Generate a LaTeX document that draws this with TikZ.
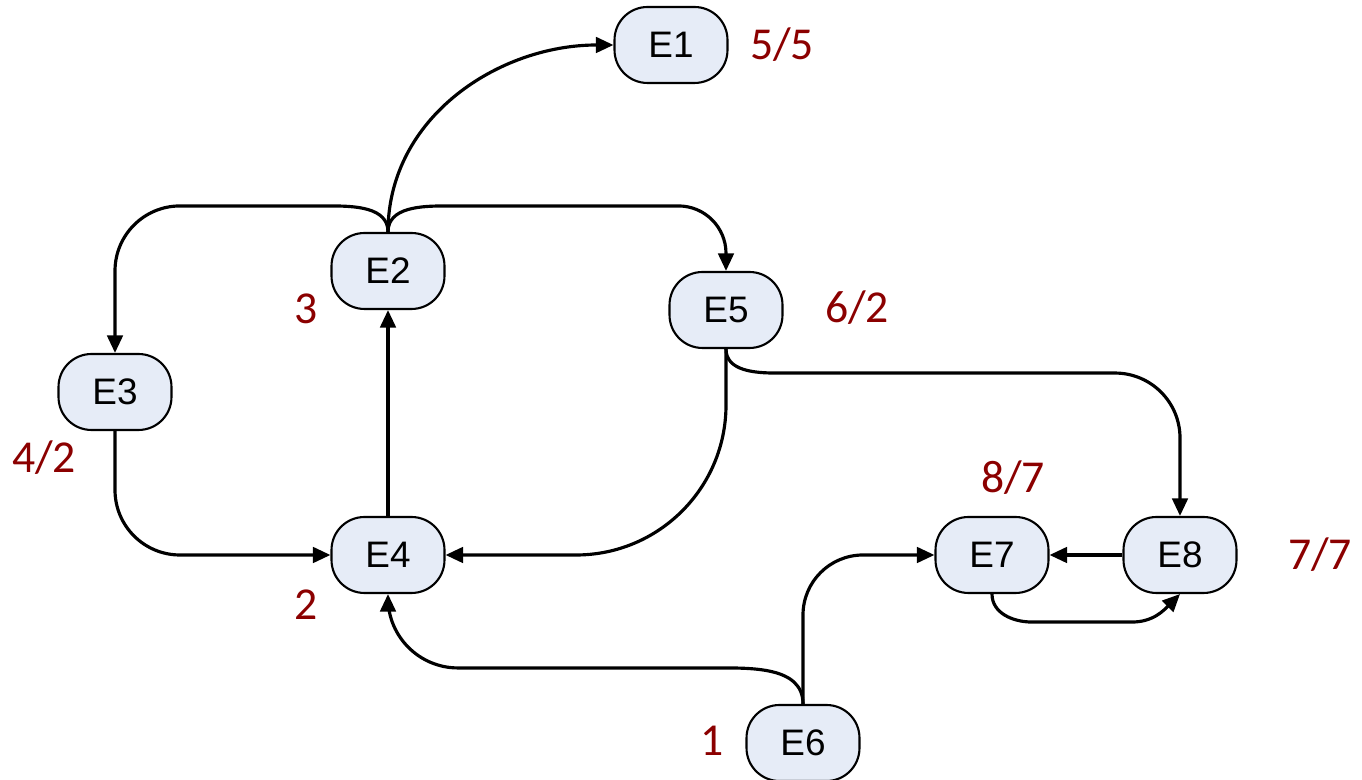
\documentclass[tikz,border=0pt]{standalone}
\usepackage{fontspec}
\setmainfont{Liberation Sans}
\newfontfamily\countfont{Carlito}
\usepackage{tikz}
\usetikzlibrary{
  arrows.meta,
  chains,
  scopes
}
\definecolor{statefill}{RGB}{230,236,247}
\definecolor{countred}{RGB}{139,0,0}

\begin{document}
\begin{tikzpicture}[
      x=0.02cm,y=0.02cm,
      state/.style={
         rectangle,
         rounded corners=0.66cm,
         minimum width=2.26cm,
         minimum height=1.52cm,
         inner sep=0pt,
         line width=1.2pt,
         draw=black,
         fill=statefill,
         font=\fontsize{21}{24}\selectfont
      },
      count/.style={
         text=countred,
         inner sep=0pt,
         font=\countfont\fontsize{26}{30}\selectfont
      },
      line width=1.8pt,
      tip/.style={-{Triangle[length=0.35cm,width=0.31cm]}},
      every join/.style={rounded corners=1.3cm},
      vh path/.style={to path={|- (\tikztotarget)}},
    ]
    \useasboundingbox (0,0) rectangle (1362,780);
    % states
    \node (e1) [state] at (671,735) {E1};
    \node (e2) [state] at (388,509) {E2};
    \node (e3) [state] at (115,388) {E3};
    \node (e4) [state] at (388,225) {E4};
    \node (e5) [state] at (726,470) {E5};
    \node (e6) [state] at (803,37) {E6};
    \node (e7) [state] at (992,225) {E7};
    \node (e8) [state] at (1180,225) {E8};
    % counts
    \node (c1) [count] at (782,735) {5/5};
    \node (c2) [count] at (306,471) {3};
    \node (c3) [count] at (44,322) {4/2};
    \node (c4) [count] at (306,175) {2};
    \node (c5) [count] at (857,472) {6/2};
    \node (c6) [count] at (712,39) {1};
    \node (c7) [count] at (1013,302) {8/7};
    \node (c8) [count] at (1320,225) {7/7};
  { [start chain]
       \chainin (e4);
       \chainin (e2)    [join=by tip];
  }
  { [start chain]
       \chainin (e2);
       \chainin (e1)    [join=by {tip,out=90,in=180}];
  }
  { [start chain]
       \chainin (e8);
       \chainin (e7)    [join=by tip];
  }
  { [start chain]
       \chainin (e3);
       \chainin (e4)    [join=by {vh path,tip}];
  }
  { [start chain]
       \chainin (e5);
       \chainin (e4)    [join=by {vh path,tip,rounded corners=3cm}];
  }
  { [start chain]
       \chainin (e6);
       \chainin (e7)    [join=by {vh path,tip,rounded corners=1.2cm}];
  }
    % forks
    \draw[tip] (e2.north) to[out=90,in=0] ++(-58,26) [rounded corners=1.3cm] -| (e3.north);
    \draw[tip] (e2.north) to[out=90,in=180] ++(58,26) [rounded corners=0.95cm] -| (e5.north);
    \draw[tip] (e5.south) to[out=-90,in=180] ++(50,-24) [rounded corners=1.3cm] -| (e8.north);
    \draw[tip] (e6.north) to[out=90,in=0] ++(-90,36) [rounded corners=1.4cm] -| (e4.south);
    \draw[tip] (e7.south) to[out=-90,in=180] ++(40,-28) -- ++(100,0) to[out=0,in=-135] (e8.south);
\end{tikzpicture}
\end{document}
